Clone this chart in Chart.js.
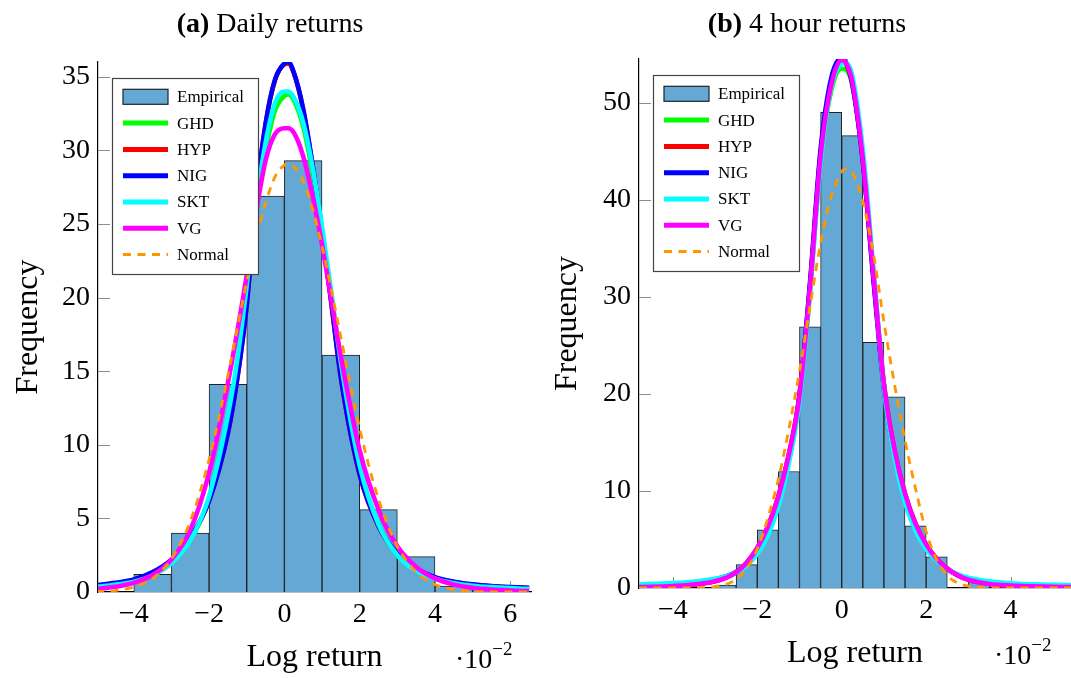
<!DOCTYPE html>
<html>
<head>
<meta charset="utf-8">
<title>Return distributions</title>
<script src="https://cdn.jsdelivr.net/npm/chart.js@4.4.1/dist/chart.umd.min.js"></script>
<style>
  html, body { margin: 0; padding: 0; background: #fff; }
  body { width: 1071px; height: 678px; position: relative; overflow: hidden; font-family: "Liberation Serif", serif; color: #000; }
  canvas { position: absolute; top: 0; }
  .ttl { position: absolute; top: 9px; font-size: 28px; line-height: 28px; white-space: nowrap; transform: translateX(-50%); }
  .exp { position: absolute; font-size: 28px; line-height: 28px; white-space: nowrap; }
  .exp span { font-size: 19px; position: relative; top: -13px; }
</style>
</head>
<body>
<canvas id="dailyChart" width="540" height="678" style="left:0"></canvas>
<canvas id="hourChart" width="531" height="678" style="left:540px"></canvas>
<div class="ttl" style="left:270px"><b>(a)</b> Daily returns</div>
<div class="ttl" style="left:807px"><b>(b)</b> 4 hour returns</div>
<div class="exp" style="left:455px; top:645px">·10<span>−2</span></div>
<div class="exp" style="left:994px; top:641px">·10<span>−2</span></div>
<script>
// log returns are in units of 1e-2, heights are densities

// (a) daily returns
const dailyBins = [-3.5, -2.5, -1.5, -0.5, 0.5, 1.5, 2.5, 3.5, 4.5, 5.5];
const dailyEmpirical = [1.2, 4.0, 14.1, 26.9, 29.3, 16.1, 5.6, 2.4, 0.4, 0.4];
const dailyX = [-5, -4.5, -4, -3.5, -3, -2.5, -2, -1.5, -1.25, -1, -0.75, -0.5, -0.25, 0, 0.1, 0.25,
  0.5, 0.75, 1, 1.25, 1.5, 2, 2.5, 3, 3.5, 4, 4.5, 5, 5.5, 6, 6.5];
const dailyGHD = [0.38, 0.53, 0.75, 1.2, 2.0, 3.5, 6.3, 11.3, 15.2, 20.2, 26.2, 30.0, 32.7, 33.7, 33.8, 33.4,
  31.6, 28.4, 24.4, 20.0, 15.2, 8.4, 4.6, 2.5, 1.5, 0.93, 0.63, 0.46, 0.36, 0.29, 0.24];
const dailyHYP = [0.42, 0.58, 0.82, 1.3, 2.15, 3.65, 6.2, 10.8, 14.5, 19.5, 26.8, 31.75, 34.75, 35.85, 35.9, 35.25,
  32.75, 28.95, 24.45, 19.55, 14.55, 7.95, 4.45, 2.57, 1.57, 0.98, 0.68, 0.5, 0.39, 0.32, 0.27];
const dailyNIG = [0.45, 0.62, 0.85, 1.35, 2.2, 3.7, 6.2, 10.8, 14.5, 19.5, 26.8, 31.8, 34.8, 35.9, 36.0, 35.3,
  32.8, 29.0, 24.5, 19.6, 14.6, 8.0, 4.5, 2.6, 1.6, 1.0, 0.7, 0.52, 0.4, 0.33, 0.28];
const dailySKT = [0.35, 0.49, 0.7, 1.12, 1.95, 3.5, 6.5, 12.0, 15.8, 20.8, 26.3, 30.5, 33.2, 34.0, 34.0, 33.6,
  31.9, 28.8, 24.8, 20.3, 15.6, 8.6, 4.6, 2.5, 1.45, 0.9, 0.6, 0.43, 0.33, 0.26, 0.21];
const dailyVG = [0.2, 0.35, 0.62, 1.15, 2.2, 4.2, 8.1, 14.2, 17.7, 21.5, 25.8, 29.3, 31.1, 31.5, 31.5, 31.2,
  29.6, 26.9, 23.6, 19.8, 16.0, 9.6, 5.6, 3.1, 1.7, 0.92, 0.5, 0.28, 0.16, 0.1, 0.06];
const dailyNormal = [0.03, 0.1, 0.33, 0.92, 2.25, 4.8, 9.0, 14.7, 17.9, 21.1, 24.0, 26.4, 28.2, 29.0, 29.1, 28.9,
  27.9, 26.0, 23.5, 20.5, 17.3, 11.1, 6.3, 3.1, 1.35, 0.51, 0.17, 0.05, 0.01, 0, 0];
const dailyXTicks = [-4, -2, 0, 2, 4, 6];
const dailyYTicks = [0, 5, 10, 15, 20, 25, 30, 35];

// (b) 4 hour returns
const hourBins = [-2.75, -2.25, -1.75, -1.25, -0.75, -0.25, 0.25, 0.75, 1.25, 1.75, 2.25, 2.75, 3.25];
const hourEmpirical = [0.3, 2.4, 6.0, 12.0, 26.9, 49.0, 46.6, 25.3, 19.7, 6.4, 3.2, null, 0.8];
const hourX = [-4.8, -4.5, -4, -3.5, -3, -2.75, -2.5, -2.25, -2, -1.75, -1.5, -1.25, -1, -0.75, -0.5, -0.25,
  0, 0.1, 0.25, 0.5, 0.75, 1, 1.25, 1.5, 1.75, 2, 2.25, 2.5, 2.75, 3, 3.5, 4, 4.5, 5, 5.45];
const hourGHD = [0.12, 0.14, 0.22, 0.37, 0.72, 1.07, 1.62, 2.6, 4.1, 6.3, 9.4, 13.7, 19.6, 30.6, 44.0, 51.2,
  53.5, 53.4, 51.8, 44.2, 32.4, 21.1, 14.3, 9.7, 6.6, 4.5, 3.0, 2.0, 1.32, 0.88, 0.45, 0.27, 0.19, 0.14, 0.12];
const hourHYP = [0.1, 0.12, 0.2, 0.35, 0.7, 1.05, 1.6, 2.6, 4.1, 6.3, 9.4, 13.8, 19.9, 31.2, 44.8, 52.0,
  54.3, 54.0, 52.0, 44.0, 32.1, 20.9, 14.2, 9.7, 6.6, 4.5, 3.0, 2.0, 1.3, 0.85, 0.42, 0.25, 0.17, 0.12, 0.1];
const hourNIG = [0.3, 0.34, 0.42, 0.58, 0.9, 1.2, 1.65, 2.5, 3.9, 6.0, 9.0, 13.3, 19.8, 31.5, 45.2, 52.5,
  54.6, 54.2, 52.0, 44.0, 31.8, 20.5, 13.6, 9.2, 6.3, 4.3, 2.9, 1.95, 1.35, 0.95, 0.55, 0.38, 0.3, 0.25, 0.22];
const hourSKT = [0.38, 0.42, 0.5, 0.65, 0.95, 1.2, 1.6, 2.3, 3.5, 5.4, 8.4, 12.9, 19.2, 30.5, 43.8, 51.6,
  54.0, 54.1, 52.8, 45.2, 33.0, 20.6, 13.4, 8.8, 5.9, 4.0, 2.8, 1.95, 1.4, 1.05, 0.68, 0.48, 0.38, 0.32, 0.28];
const hourVG = [0.1, 0.12, 0.2, 0.35, 0.7, 1.05, 1.6, 2.6, 4.1, 6.3, 9.4, 13.8, 19.8, 31.0, 44.5, 51.8,
  54.4, 54.1, 52.2, 44.2, 32.3, 21.0, 14.3, 9.7, 6.6, 4.5, 3.0, 2.0, 1.3, 0.85, 0.42, 0.25, 0.17, 0.12, 0.1];
const hourNormal = [0, 0, 0, 0.02, 0.15, 0.35, 0.9, 2.0, 4.0, 7.2, 11.2, 16.4, 22.3, 29.0, 35.5, 40.3,
  42.9, 43.2, 42.8, 39.8, 34.5, 27.4, 21.0, 15.2, 10.2, 5.8, 2.9, 1.3, 0.5, 0.2, 0.03, 0, 0, 0, 0];
const hourXTicks = [-4, -2, 0, 2, 4];
const hourYTicks = [0, 10, 20, 30, 40, 50];

const serif = '"Liberation Serif", serif';
const barColor = '#64a8d5';
const fitStyles = [
  { label: 'GHD', color: '#00ff00' },
  { label: 'HYP', color: '#ff0000' },
  { label: 'NIG', color: '#0000ff' },
  { label: 'SKT', color: '#00ffff' },
  { label: 'VG', color: '#ff00ff' }
];

function toPoints(xs, ys) {
  return xs.map((x, i) => ({ x: x, y: ys[i] }));
}

// legend drawn as a framed box inside the plot, top left
const boxLegend = {
  id: 'boxLegend',
  afterDatasetsDraw(chart) {
    const ctx = chart.ctx;
    const a = chart.chartArea;
    const x0 = a.left + 14.5, y0 = a.top + 16.5, w = 146, h = 196;
    ctx.save();
    ctx.fillStyle = '#fff';
    ctx.fillRect(x0, y0, w, h);
    ctx.strokeStyle = '#444';
    ctx.lineWidth = 1.2;
    ctx.strokeRect(x0, y0, w, h);
    ctx.font = '17px ' + serif;
    ctx.textBaseline = 'middle';
    chart.data.datasets.forEach((ds, i) => {
      const y = y0 + 18.3 + i * 26.3;
      const sx = x0 + 10.5;
      if (ds.type === 'bar') {
        ctx.fillStyle = ds.backgroundColor;
        ctx.fillRect(sx, y - 7.5, 45, 15);
        ctx.strokeStyle = '#222';
        ctx.lineWidth = 1.2;
        ctx.strokeRect(sx, y - 7.5, 45, 15);
      } else {
        ctx.strokeStyle = ds.borderColor;
        ctx.lineWidth = ds.borderDash ? 3 : 5;
        ctx.setLineDash(ds.borderDash || []);
        ctx.beginPath();
        ctx.moveTo(sx, y);
        ctx.lineTo(sx + 45, y);
        ctx.stroke();
        ctx.setLineDash([]);
      }
      ctx.fillStyle = '#000';
      ctx.fillText(ds.label, x0 + 64.5, y + 1);
    });
    ctx.restore();
  }
};

// short grey tick marks pointing into the plot
const innerTicks = {
  id: 'innerTicks',
  beforeDatasetsDraw(chart) {
    const { ctx, chartArea: a, scales } = chart;
    ctx.save();
    ctx.strokeStyle = '#8c8c8c';
    ctx.lineWidth = 1;
    ctx.beginPath();
    scales.x.ticks.forEach(t => {
      const px = Math.round(scales.x.getPixelForValue(t.value)) + 0.5;
      ctx.moveTo(px, a.bottom);
      ctx.lineTo(px, a.bottom - 11);
    });
    scales.y.ticks.forEach(t => {
      if (t.value === 0) return;
      const py = Math.round(scales.y.getPixelForValue(t.value)) + 0.5;
      ctx.moveTo(a.left, py);
      ctx.lineTo(a.left + 12, py);
    });
    ctx.stroke();
    ctx.restore();
  }
};

function makeChart(id, p) {
  const datasets = [{
    type: 'bar',
    label: 'Empirical',
    data: toPoints(p.bins, p.empirical),
    backgroundColor: barColor,
    borderColor: '#222',
    borderWidth: 1,
    borderSkipped: 'bottom',
    categoryPercentage: 1,
    barPercentage: 1,
    order: 10
  }];
  fitStyles.forEach((f, i) => {
    datasets.push({
      type: 'line',
      label: f.label,
      data: toPoints(p.xs, p.curves[i]),
      borderColor: f.color,
      borderWidth: 4.6,
      pointRadius: 0,
      cubicInterpolationMode: 'monotone',
      order: 6 - i
    });
  });
  datasets.push({
    type: 'line',
    label: 'Normal',
    data: toPoints(p.xs, p.normal),
    borderColor: '#ff9600',
    borderWidth: 2.8,
    borderDash: [8, 6.5],
    pointRadius: 0,
    cubicInterpolationMode: 'monotone',
    order: 0
  });

  return new Chart(document.getElementById(id), {
    type: 'bar',
    data: { datasets: datasets },
    options: {
      responsive: false,
      animation: false,
      devicePixelRatio: 1,
      layout: { padding: { top: p.top, right: p.right, left: 0, bottom: 0 } },
      plugins: { legend: { display: false }, tooltip: { enabled: false } },
      scales: {
        x: {
          type: 'linear',
          min: p.xMin,
          max: p.xMax,
          offset: false,
          grid: { display: false, drawTicks: false },
          border: { display: true, color: '#000', width: 1.2 },
          afterBuildTicks: s => { s.ticks = p.xTicks.map(v => ({ value: v })); },
          afterFit: s => { s.height = p.xHeight; },
          ticks: {
            padding: 6,
            color: '#000',
            font: { family: serif, size: 28 },
            callback: v => (v < 0 ? '\u2212' + Math.abs(v) : String(v))
          },
          title: {
            display: true,
            text: 'Log return',
            color: '#000',
            font: { family: serif, size: 32 },
            padding: { top: 0, bottom: p.xTitlePad }
          }
        },
        y: {
          min: 0,
          max: p.yMax,
          grid: { display: false, drawTicks: false },
          border: { display: true, color: '#000', width: 1.2 },
          afterBuildTicks: s => { s.ticks = p.yTicks.map(v => ({ value: v })); },
          afterFit: s => { s.width = p.yWidth; },
          ticks: {
            padding: 8,
            color: '#000',
            font: { family: serif, size: 28 }
          },
          title: {
            display: true,
            text: 'Frequency',
            color: '#000',
            font: { family: serif, size: 32 },
            padding: { top: p.yTitlePad, bottom: 0 }
          }
        }
      }
    },
    plugins: [innerTicks, boxLegend]
  });
}

makeChart('dailyChart', {
  bins: dailyBins, empirical: dailyEmpirical, xs: dailyX,
  curves: [dailyGHD, dailyHYP, dailyNIG, dailySKT, dailyVG], normal: dailyNormal,
  xTicks: dailyXTicks, yTicks: dailyYTicks,
  xMin: -4.95, xMax: 6.55, yMax: 36,
  top: 62, right: 9, yWidth: 98, xHeight: 86, xTitlePad: 1, yTitlePad: 9
});

makeChart('hourChart', {
  bins: hourBins, empirical: hourEmpirical, xs: hourX,
  curves: [hourGHD, hourHYP, hourNIG, hourSKT, hourVG], normal: hourNormal,
  xTicks: hourXTicks, yTicks: hourYTicks,
  xMin: -4.8, xMax: 5.43, yMax: 54.5,
  top: 59, right: 0, yWidth: 99, xHeight: 90, xTitlePad: 5, yTitlePad: 8
});
</script>
</body>
</html>
